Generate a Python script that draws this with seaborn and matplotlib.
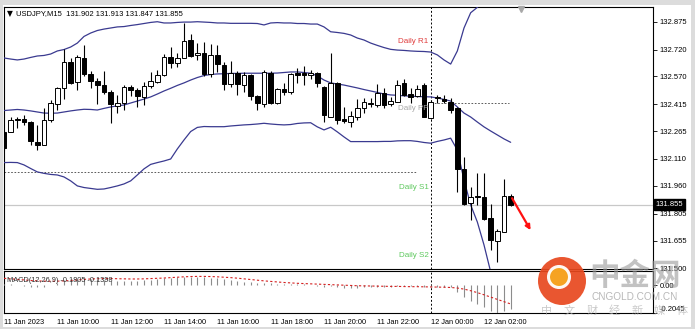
import numpy as np
import pandas as pd
import matplotlib
matplotlib.use("Agg")
import matplotlib.pyplot as plt
import seaborn as sns
from matplotlib.patches import Rectangle, Circle, FancyArrowPatch
import matplotlib.transforms as mtransforms

# ---------------- data ----------------
time_labels = ["11 Jan 2023", "11 Jan 10:00", "11 Jan 12:00", "11 Jan 14:00", "11 Jan 16:00",
               "11 Jan 18:00", "11 Jan 20:00", "11 Jan 22:00", "12 Jan 00:00", "12 Jan 02:00"]
price_ticks = [132.875, 132.720, 132.570, 132.415, 132.265, 132.110, 131.960, 131.805, 131.655, 131.500]

opens = [132.261, 132.259, 132.333, 132.335, 132.315, 132.207, 132.188, 132.327, 132.417, 132.504,
         132.652, 132.541, 132.675, 132.584, 132.546, 132.523, 132.485, 132.405, 132.422, 132.511,
         132.495, 132.457, 132.517, 132.541, 132.578, 132.680, 132.645, 132.671, 132.773, 132.690,
         132.702, 132.584, 132.690, 132.634, 132.528, 132.591, 132.523, 132.578, 132.461, 132.417,
         132.591, 132.420, 132.499, 132.485, 132.591, 132.591, 132.577, 132.588, 132.510, 132.346,
         132.532, 132.331, 132.318, 132.343, 132.393, 132.424, 132.411, 132.480, 132.415, 132.429,
         132.532, 132.471, 132.461, 132.523, 132.337, 132.450, 132.442, 132.426, 132.396, 132.053,
         131.863, 131.904, 131.897, 131.780, 131.655, 131.705, 131.902]
highs = [132.266, 132.343, 132.346, 132.355, 132.322, 132.300, 132.394, 132.439, 132.511, 132.723,
         132.673, 132.690, 132.745, 132.602, 132.561, 132.602, 132.495, 132.467, 132.523, 132.523,
         132.506, 132.541, 132.597, 132.606, 132.695, 132.734, 132.701, 132.866, 132.807, 132.755,
         132.760, 132.751, 132.745, 132.652, 132.658, 132.600, 132.597, 132.584, 132.467, 132.606,
         132.600, 132.506, 132.532, 132.589, 132.616, 132.628, 132.606, 132.595, 132.517, 132.702,
         132.539, 132.402, 132.379, 132.443, 132.448, 132.448, 132.528, 132.506, 132.457, 132.550,
         132.554, 132.506, 132.523, 132.534, 132.439, 132.467, 132.467, 132.448, 132.400, 132.120,
         131.956, 132.031, 132.034, 131.860, 131.720, 131.997, 131.913]
lows = [132.160, 132.259, 132.283, 132.300, 132.188, 132.160, 132.188, 132.316, 132.383, 132.444,
        132.528, 132.495, 132.573, 132.506, 132.417, 132.472, 132.311, 132.366, 132.383, 132.461,
        132.402, 132.411, 132.506, 132.534, 132.573, 132.617, 132.624, 132.671, 132.679, 132.662,
        132.573, 132.569, 132.597, 132.495, 132.511, 132.467, 132.485, 132.439, 132.383, 132.402,
        132.417, 132.417, 132.467, 132.472, 132.532, 132.523, 132.554, 132.513, 132.318, 132.344,
        132.305, 132.312, 132.287, 132.327, 132.365, 132.402, 132.402, 132.393, 132.405, 132.428,
        132.461, 132.422, 132.456, 132.344, 132.333, 132.422, 132.422, 132.368, 131.928, 131.854,
        131.770, 131.854, 131.770, 131.603, 131.538, 131.704, 131.847]
closes = [132.171, 132.327, 132.330, 132.315, 132.210, 132.188, 132.327, 132.420, 132.504, 132.652,
          132.535, 132.680, 132.584, 132.546, 132.523, 132.482, 132.417, 132.422, 132.513, 132.495,
          132.461, 132.517, 132.546, 132.578, 132.680, 132.647, 132.673, 132.769, 132.686, 132.702,
          132.584, 132.690, 132.638, 132.528, 132.591, 132.528, 132.578, 132.461, 132.420, 132.597,
          132.420, 132.499, 132.485, 132.582, 132.578, 132.578, 132.588, 132.532, 132.355, 132.532,
          132.327, 132.320, 132.350, 132.393, 132.426, 132.415, 132.480, 132.411, 132.433, 132.523,
          132.467, 132.457, 132.500, 132.346, 132.429, 132.453, 132.433, 132.383, 132.053, 131.860,
          131.897, 131.897, 131.774, 131.659, 131.711, 131.904, 131.855]

bb_upper = [132.673, 132.667, 132.662, 132.667, 132.676, 132.684, 132.687, 132.695, 132.712, 132.720,
            132.734, 132.756, 132.793, 132.812, 132.826, 132.834, 132.840, 132.846, 132.848, 132.854,
            132.859, 132.865, 132.871, 132.875, 132.868, 132.868, 132.871, 132.873, 132.873, 132.875,
            132.873, 132.871, 132.868, 132.868, 132.866, 132.866, 132.866, 132.866, 132.865, 132.857,
            132.868, 132.870, 132.868, 132.868, 132.865, 132.865, 132.862, 132.862, 132.846, 132.819,
            132.815, 132.810, 132.801, 132.784, 132.773, 132.756, 132.743, 132.731, 132.721, 132.717,
            132.715, 132.712, 132.710, 132.709, 132.706, 132.690, 132.662, 132.639, 132.712, 132.840,
            132.925, 132.955, 133.000, 133.040, 133.070, 133.090, 133.100]
bb_middle = [132.380, 132.383, 132.386, 132.383, 132.378, 132.372, 132.366, 132.365, 132.366, 132.372,
             132.378, 132.383, 132.387, 132.386, 132.383, 132.392, 132.400, 132.406, 132.411, 132.422,
             132.433, 132.444, 132.456, 132.472, 132.489, 132.504, 132.520, 132.534, 132.550, 132.564,
             132.575, 132.581, 132.584, 132.585, 132.587, 132.587, 132.588, 132.588, 132.588, 132.588,
             132.588, 132.589, 132.592, 132.595, 132.595, 132.592, 132.588, 132.573, 132.550, 132.534,
             132.528, 132.522, 132.514, 132.506, 132.497, 132.489, 132.481, 132.472, 132.467, 132.465,
             132.462, 132.460, 132.458, 132.457, 132.456, 132.450, 132.442, 132.433, 132.400, 132.366,
             132.344, 132.316, 132.289, 132.266, 132.244, 132.222, 132.203]
bb_lower = [132.090, 132.091, 132.090, 132.077, 132.057, 132.038, 132.030, 132.024, 132.021, 132.010,
            131.988, 131.960, 131.951, 131.946, 131.941, 131.943, 131.951, 131.960, 131.971, 131.988,
            132.021, 132.055, 132.080, 132.090, 132.099, 132.110, 132.166, 132.216, 132.263, 132.286,
            132.291, 132.290, 132.290, 132.290, 132.294, 132.297, 132.300, 132.302, 132.305, 132.309,
            132.305, 132.302, 132.300, 132.302, 132.308, 132.311, 132.312, 132.289, 132.272, 132.287,
            132.261, 132.233, 132.207, 132.207, 132.207, 132.207, 132.207, 132.208, 132.208, 132.211,
            132.212, 132.212, 132.208, 132.202, 132.198, 132.208, 132.216, 132.226, 132.160, 131.993,
            131.854, 131.759, 131.631, 131.481, 131.325, 131.185, 131.074]

macd_main = [0.010, 0.005, 0.000, -0.005, -0.012, -0.018, -0.012, 0.000, 0.014, 0.035,
             0.042, 0.048, 0.050, 0.048, 0.042, 0.036, 0.030, 0.028, 0.028, 0.028,
             0.028, 0.034, 0.036, 0.042, 0.050, 0.055, 0.057, 0.062, 0.063, 0.062,
             0.057, 0.055, 0.050, 0.042, 0.036, 0.030, 0.024, 0.020, 0.014, 0.014,
             0.012, 0.008, 0.006, 0.008, 0.008, 0.007, 0.002, -0.004, -0.012, -0.010,
             -0.016, -0.020, -0.022, -0.022, -0.018, -0.016, -0.012, -0.014, -0.012, -0.008,
             -0.008, -0.009, -0.008, -0.016, -0.015, -0.014, -0.014, -0.018, -0.050, -0.090,
             -0.120, -0.140, -0.165, -0.190, -0.2045, -0.195, -0.1805]
macd_signal = [0.050, 0.046, 0.042, 0.038, 0.034, 0.031, 0.029, 0.028, 0.029, 0.031,
               0.034, 0.038, 0.042, 0.045, 0.047, 0.048, 0.048, 0.047, 0.046, 0.045,
               0.045, 0.046, 0.048, 0.050, 0.052, 0.055, 0.058, 0.061, 0.063, 0.064,
               0.064, 0.063, 0.061, 0.058, 0.055, 0.051, 0.046, 0.041, 0.036, 0.031,
               0.027, 0.023, 0.019, 0.016, 0.013, 0.011, 0.009, 0.007, 0.005, 0.003,
               0.001, -0.001, -0.003, -0.005, -0.006, -0.007, -0.008, -0.009, -0.010, -0.010,
               -0.011, -0.012, -0.012, -0.013, -0.014, -0.015, -0.016, -0.018, -0.022, -0.030,
               -0.042, -0.056, -0.072, -0.089, -0.106, -0.123, -0.1398]
macd_range = [-0.2045, 0.104]

pivot_pp = 132.422
prev_level = 132.038
bid = 131.855
pivot_labels = ["Daily R1", "Daily PP", "Daily S1", "Daily S2"]
pivot_label_prices = [132.762, 132.394, 131.949, 131.570]
pivot_label_colors = ["#e03c3c", "#a8a8a8", "#5ec95e", "#5ec95e"]
slogan_chars = ["中", "文", "财", "经", "新", "媒", "体"]

# ---------------- figure ----------------
sns.set_theme(style="white")
plt.rcParams['font.family'] = ['Liberation Sans', 'DejaVu Sans']

W, H = 695, 329
fig = plt.figure(figsize=(W / 100, H / 100), dpi=100)
fig.patch.set_facecolor("#dcdcdc")
fig.patches.append(Rectangle((3 / W, 2 / H), (W - 7) / W, (H - 7) / H, transform=fig.transFigure,
                             facecolor="white", edgecolor="none", zorder=-5))

def fx(px):
    return px / W

def fy(py):
    return 1 - py / H

ax = fig.add_axes([fx(4), fy(269), (653 - 4) / W, (269 - 7) / H])
mx = fig.add_axes([fx(4), fy(312.7), (653 - 4) / W, (312.7 - 271) / H])

n = len(opens)
idx = np.arange(n)
df = pd.DataFrame({"i": idx, "o": opens, "h": highs, "l": lows, "c": closes,
                   "up": bb_upper, "mid": bb_middle, "lo": bb_lower,
                   "macd": macd_main, "sig": macd_signal})

xmax = (653 - 4) / 6.6667
for a in (ax, mx):
    a.set_xlim(0, xmax)
    a.set_facecolor("white")
    for s in a.spines.values():
        s.set_color("black")
        s.set_linewidth(0.8)

ax.set_ylim(131.497, 132.957)

# bands
band_col = "#3a3a90"
for col in ["up", "mid", "lo"]:
    sns.lineplot(data=df, x="i", y=col, ax=ax, color=band_col, linewidth=0.9, zorder=3)

# candles
ax.vlines(df["i"], df["l"], df["h"], color="black", linewidth=0.8, zorder=4)
bull = df["c"] >= df["o"]
bottoms = np.minimum(df["o"], df["c"])
heights = np.maximum(np.abs(df["c"] - df["o"]), 0.0005)
ax.bar(df["i"], heights, bottom=bottoms, width=0.68,
       color=np.where(bull, "white", "black"), edgecolor="black", linewidth=0.7, zorder=5)

# bid line, pivot lines, day separator
ax.axhline(bid, color="#c8c8c8", linewidth=0.9, zorder=1)
ax.hlines(pivot_pp, 64, 75.7, colors="#404040", linestyles=(0, (2, 2)), linewidth=0.6, zorder=2)
ax.hlines(prev_level, 0, 62, colors="#404040", linestyles=(0, (2, 2)), linewidth=0.6, zorder=2)
for a in (ax, mx):
    a.axvline(64, color="black", linestyle=(0, (2, 2)), linewidth=0.7, zorder=2)

for lab, p, c in zip(pivot_labels, pivot_label_prices, pivot_label_colors):
    ax.text(63.7, p, lab, color=c, fontsize=5.8, ha="right", va="center", zorder=6)

# red arrow
arr = FancyArrowPatch((76.0, 131.905), (79.2, 131.700), arrowstyle="-|>", mutation_scale=7,
                      color="#ff1010", linewidth=1.6, zorder=7)
ax.add_patch(arr)

# chart shift marker
ax.plot([77.6], [132.944], marker="v", color="#a8a8a8", markersize=4, clip_on=False, zorder=8)

# right price axis
ax.yaxis.tick_right()
ax.set_yticks(price_ticks)
ax.set_yticklabels([f"{v:.3f}" for v in price_ticks])
ax.tick_params(axis="y", direction="out", length=3, width=0.6, colors="black", labelsize=5.5, pad=1.5)
ax.set_xticks([])
ax.set_xlabel("")
ax.set_ylabel("")
trans = mtransforms.blended_transform_factory(ax.transAxes, ax.transData)
ax.text(1.004, bid, f"{bid:.3f}", transform=trans, color="white", fontsize=5.5, va="center", ha="left",
        bbox=dict(boxstyle="square,pad=0.25", facecolor="black", edgecolor="black"), zorder=9)

# title
fig.text(fx(6.5), fy(14), "▼", fontsize=5.5, va="center", ha="left", color="black",
         family=["DejaVu Sans"])
fig.text(fx(16), fy(14), "USDJPY,M15  131.902 131.913 131.847 131.855", fontsize=5.5,
         va="center", ha="left", color="black")

# MACD panel
mx.vlines(df["i"], 0, df["macd"], color="#8c8c8c", linewidth=0.8, zorder=3)
sns.lineplot(data=df, x="i", y="sig", ax=mx, color="#d42020", linewidth=0.8,
             linestyle=(0, (2, 2)), zorder=4)
mx.set_ylim(*macd_range)
mx.yaxis.tick_right()
mx.set_yticks([0.0, macd_range[0]])
mx.set_yticklabels(["0.00", f"{macd_range[0]:.4f}"])
mx.tick_params(axis="y", direction="out", length=3, width=0.6, colors="black", labelsize=5.5, pad=1.5)
for t in mx.get_yticklabels()[1:]:
    t.set_va("bottom")
mx.set_xticks(list(range(0, 73, 8)))
mx.set_xticklabels(time_labels, ha="left")
mx.tick_params(axis="x", direction="out", length=3, width=0.6, colors="black", labelsize=5.3, pad=1.5)
mx.set_xlabel("")
mx.set_ylabel("")
mx.text(3 / 649, 0.78, "MACD(12,26,9) -0.1805 -0.1398", transform=mx.transAxes,
        fontsize=5.3, va="center", ha="left", color="#303030", zorder=6)

# watermark logo
pix = mtransforms.IdentityTransform()
fig.patches.append(Circle((562, H - 281), 24, transform=pix, facecolor="#e8481e", edgecolor="none",
                          alpha=0.92, zorder=10))
fig.patches.append(Circle((559, H - 277), 10.5, transform=pix, facecolor="#f7a823", edgecolor="white",
                          linewidth=2.2, alpha=0.95, zorder=11))
fig.text(fx(635), fy(276), "中金网", fontsize=22, family=["Noto Sans CJK SC", "DejaVu Sans"],
         color="#9a9a9a", alpha=0.6, ha="center", va="center", fontweight="bold", zorder=12)
fig.text(fx(635), fy(297.5), "CNGOLD.COM.CN", fontsize=7.2, color="#9a9a9a", alpha=0.7,
         ha="center", va="center", zorder=12)
for k, ch in enumerate(slogan_chars):
    fig.text(fx(547 + k * 22.5), fy(311), ch, fontsize=8, family=["Noto Sans CJK SC", "DejaVu Sans"],
             color="#b4b4b4", alpha=0.7, ha="center", va="center", zorder=12)

fig.savefig("out.png", dpi=100, facecolor=fig.get_facecolor())
